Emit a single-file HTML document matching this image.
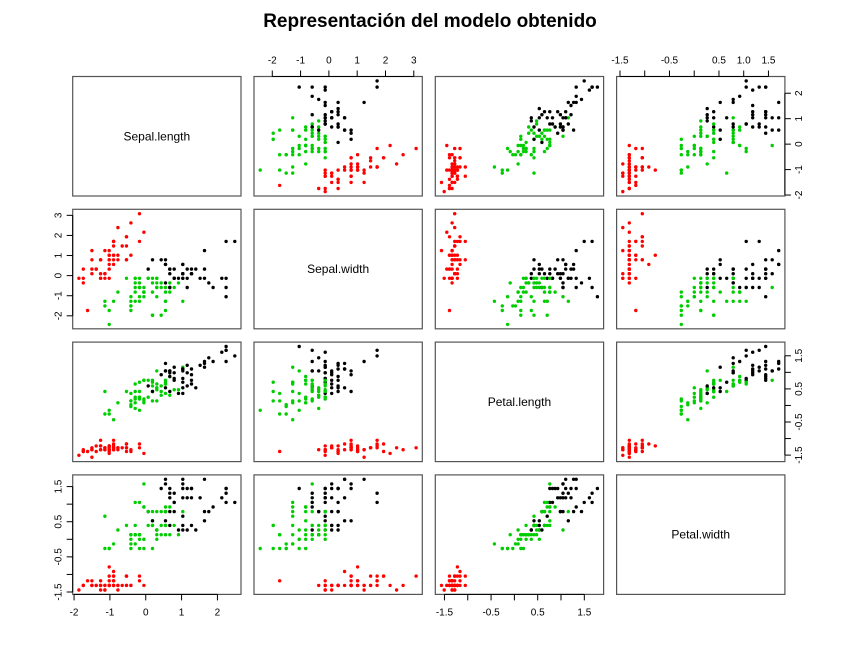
<!DOCTYPE html>
<html><head><meta charset="utf-8"><style>
body{margin:0;background:#fff;}
svg text{font-family:"Liberation Sans",sans-serif;fill:#000;}
</style></head><body>
<svg id="s" width="846" height="657" xmlns="http://www.w3.org/2000/svg">
<text x="430" y="27" font-size="19" font-weight="bold" text-anchor="middle">Representación del modelo obtenido</text>
</svg>
<script>
var raw="5.1,3.5,1.4,0.2;4.9,3.0,1.4,0.2;4.7,3.2,1.3,0.2;4.6,3.1,1.5,0.2;5.0,3.6,1.4,0.2;5.4,3.9,1.7,0.4;4.6,3.4,1.4,0.3;5.0,3.4,1.5,0.2;4.4,2.9,1.4,0.2;4.9,3.1,1.5,0.1;5.4,3.7,1.5,0.2;4.8,3.4,1.6,0.2;4.8,3.0,1.4,0.1;4.3,3.0,1.1,0.1;5.8,4.0,1.2,0.2;5.7,4.4,1.5,0.4;5.4,3.9,1.3,0.4;5.1,3.5,1.4,0.3;5.7,3.8,1.7,0.3;5.1,3.8,1.5,0.3;5.4,3.4,1.7,0.2;5.1,3.7,1.5,0.4;4.6,3.6,1.0,0.2;5.1,3.3,1.7,0.5;4.8,3.4,1.9,0.2;5.0,3.0,1.6,0.2;5.0,3.4,1.6,0.4;5.2,3.5,1.5,0.2;5.2,3.4,1.4,0.2;4.7,3.2,1.6,0.2;4.8,3.1,1.6,0.2;5.4,3.4,1.5,0.4;5.2,4.1,1.5,0.1;5.5,4.2,1.4,0.2;4.9,3.1,1.5,0.2;5.0,3.2,1.2,0.2;5.5,3.5,1.3,0.2;4.9,3.6,1.4,0.1;4.4,3.0,1.3,0.2;5.1,3.4,1.5,0.2;5.0,3.5,1.3,0.3;4.5,2.3,1.3,0.3;4.4,3.2,1.3,0.2;5.0,3.5,1.6,0.6;5.1,3.8,1.9,0.4;4.8,3.0,1.4,0.3;5.1,3.8,1.6,0.2;4.6,3.2,1.4,0.2;5.3,3.7,1.5,0.2;5.0,3.3,1.4,0.2;"+
"7.0,3.2,4.7,1.4;6.4,3.2,4.5,1.5;6.9,3.1,4.9,1.5;5.5,2.3,4.0,1.3;6.5,2.8,4.6,1.5;5.7,2.8,4.5,1.3;6.3,3.3,4.7,1.6;4.9,2.4,3.3,1.0;6.6,2.9,4.6,1.3;5.2,2.7,3.9,1.4;5.0,2.0,3.5,1.0;5.9,3.0,4.2,1.5;6.0,2.2,4.0,1.0;6.1,2.9,4.7,1.4;5.6,2.9,3.6,1.3;6.7,3.1,4.4,1.4;5.6,3.0,4.5,1.5;5.8,2.7,4.1,1.0;6.2,2.2,4.5,1.5;5.6,2.5,3.9,1.1;5.9,3.2,4.8,1.8;6.1,2.8,4.0,1.3;6.3,2.5,4.9,1.5;6.1,2.8,4.7,1.2;6.4,2.9,4.3,1.3;6.6,3.0,4.4,1.4;6.8,2.8,4.8,1.4;6.7,3.0,5.0,1.7;6.0,2.9,4.5,1.5;5.7,2.6,3.5,1.0;5.5,2.4,3.8,1.1;5.5,2.4,3.7,1.0;5.8,2.7,3.9,1.2;6.0,2.7,5.1,1.6;5.4,3.0,4.5,1.5;6.0,3.4,4.5,1.6;6.7,3.1,4.7,1.5;6.3,2.3,4.4,1.3;5.6,3.0,4.1,1.3;5.5,2.5,4.0,1.3;5.5,2.6,4.4,1.2;6.1,3.0,4.6,1.4;5.8,2.6,4.0,1.2;5.0,2.3,3.3,1.0;5.6,2.7,4.2,1.3;5.7,3.0,4.2,1.2;5.7,2.9,4.2,1.3;6.2,2.9,4.3,1.3;5.1,2.5,3.0,1.1;5.7,2.8,4.1,1.3;"+
"6.3,3.3,6.0,2.5;5.8,2.7,5.1,1.9;7.1,3.0,5.9,2.1;6.3,2.9,5.6,1.8;6.5,3.0,5.8,2.2;7.6,3.0,6.6,2.1;4.9,2.5,4.5,1.7;7.3,2.9,6.3,1.8;6.7,2.5,5.8,1.8;7.2,3.6,6.1,2.5;6.5,3.2,5.1,2.0;6.4,2.7,5.3,1.9;6.8,3.0,5.5,2.1;5.7,2.5,5.0,2.0;5.8,2.8,5.1,2.4;6.4,3.2,5.3,2.3;6.5,3.0,5.5,1.8;7.7,3.8,6.7,2.2;7.7,2.6,6.9,2.3;6.0,2.2,5.0,1.5;6.9,3.2,5.7,2.3;5.6,2.8,4.9,2.0;7.7,2.8,6.7,2.0;6.3,2.7,4.9,1.8;6.7,3.3,5.7,2.1;7.2,3.2,6.0,1.8;6.2,2.8,4.8,1.8;6.1,3.0,4.9,1.8;6.4,2.8,5.6,2.1;7.2,3.0,5.8,1.6;7.4,2.8,6.1,1.9;7.9,3.8,6.4,2.0;6.4,2.8,5.6,2.2;6.3,2.8,5.1,1.5;6.1,2.6,5.6,1.4;7.7,3.0,6.1,2.3;6.3,3.4,5.6,2.4;6.4,3.1,5.5,1.8;6.0,3.0,4.8,1.8;6.9,3.1,5.4,2.1;6.7,3.1,5.6,2.4;6.9,3.1,5.1,2.3;5.8,2.7,5.1,1.9;6.8,3.2,5.9,2.3;6.7,3.3,5.7,2.5;6.7,3.0,5.2,2.3;6.3,2.5,5.0,1.9;6.5,3.0,5.2,2.0;6.2,3.4,5.4,2.3;5.9,3.0,5.1,1.8";
var D=raw.split(";").map(function(r){return r.split(",").map(Number)});
var n=D.length;
for(var j=0;j<4;j++){var m=0;for(var i=0;i<n;i++)m+=D[i][j];m/=n;var v=0;for(i=0;i<n;i++)v+=(D[i][j]-m)*(D[i][j]-m);var sd=Math.sqrt(v/(n-1));for(i=0;i<n;i++)D[i][j]=(D[i][j]-m)/sd;}
// kmeans
var C=[D[0].slice(),D[50].slice(),D[100].slice()],cl=new Array(n);
for(var it=0;it<50;it++){for(i=0;i<n;i++){var b=0,bd=1e9;for(var k=0;k<3;k++){var d=0;for(j=0;j<4;j++)d+=Math.pow(D[i][j]-C[k][j],2);if(d<bd){bd=d;b=k;}}cl[i]=b;}
for(k=0;k<3;k++){var s=[0,0,0,0],c=0;for(i=0;i<n;i++)if(cl[i]==k){c++;for(j=0;j<4;j++)s[j]+=D[i][j];}if(c)for(j=0;j<4;j++)C[k][j]=s[j]/c;}}
var ord=[0,1,2].sort(function(a,b){return C[a][2]-C[b][2]});
var col={};col[ord[0]]="#ff0000";col[ord[1]]="#00cd00";col[ord[2]]="#000000";
var rng=[];for(j=0;j<4;j++){var mn=1e9,mx=-1e9;for(i=0;i<n;i++){mn=Math.min(mn,D[i][j]);mx=Math.max(mx,D[i][j]);}var e=(mx-mn)*0.04;rng.push([mn-e,mx+e]);}
var X0=72.7,W=168.3,PX=181.3,Y0=76.5,H=119.5,PY=132.8;
var out="";
function px(c,v){return X0+c*PX+(v-rng[c][0])/(rng[c][1]-rng[c][0])*W}
function py(r,v){return Y0+r*PY+H-(v-rng[r][0])/(rng[r][1]-rng[r][0])*H}
var names=["Sepal.length","Sepal.width","Petal.length","Petal.width"];
for(var r=0;r<4;r++)for(var c=0;c<4;c++){
 var x=X0+c*PX,y=Y0+r*PY;
 out+='<rect x="'+x+'" y="'+y+'" width="'+W+'" height="'+H+'" fill="none" stroke="#555" stroke-width="1.2"/>';
 if(r==c){out+='<text x="'+(x+W/2)+'" y="'+(y+H/2+4)+'" font-size="12" text-anchor="middle">'+names[r]+'</text>';continue;}
 for(i=0;i<n;i++)out+='<circle cx="'+px(c,D[i][c]).toFixed(1)+'" cy="'+py(r,D[i][r]).toFixed(1)+'" r="1.7" fill="'+col[cl[i]]+'"/>';
}
var T=[{t:[-2,-1,0,1,2],l:[-2,-1,0,1,2]},{t:[-2,-1,0,1,2,3],l:[-2,-1,0,1,2,3]},{t:[-1.5,-1,-0.5,0,0.5,1,1.5],l:["-1.5",null,"-0.5",null,"0.5",null,"1.5"]},{t:[-1.5,-1,-0.5,0,0.5,1,1.5],l:["-1.5",null,"-0.5",null,"0.5","1.0","1.5"]}];
var T4L=["-1.5",null,"-0.5",null,"0.5",null,"1.5"];
// x axes: col0,2 bottom; col1,3 top
for(c=0;c<4;c++){var bottom=(c%2==0);var yb=bottom?Y0+3*PY+H:Y0;var dir=bottom?1:-1;
 var t=T[c].t,xs=[];for(var q=0;q<t.length;q++)xs.push(px(c,t[q]));
 out+='<line x1="'+xs[0]+'" x2="'+xs[xs.length-1]+'" y1="'+yb+'" y2="'+yb+'" stroke="#000"/>';
 for(q=0;q<t.length;q++){out+='<line x1="'+xs[q]+'" x2="'+xs[q]+'" y1="'+yb+'" y2="'+(yb+dir*6)+'" stroke="#000"/>';
  var lb=T[c].l[q];if(lb!==null)out+='<text x="'+xs[q]+'" y="'+(bottom?yb+21:yb-13)+'" font-size="10" text-anchor="middle">'+lb+'</text>';}
}
// y axes: row0,2 right; row1,3 left
for(r=0;r<4;r++){var right=(r%2==0);var xb=right?X0+3*PX+W:X0;var dir=right?1:-1;
 var t=T[r].t,ys=[];for(var q=0;q<t.length;q++)ys.push(py(r,t[q]));
 var L=(r==3)?T4L:T[r].l;
 out+='<line y1="'+ys[0]+'" y2="'+ys[ys.length-1]+'" x1="'+xb+'" x2="'+xb+'" stroke="#000"/>';
 for(q=0;q<t.length;q++){out+='<line y1="'+ys[q]+'" y2="'+ys[q]+'" x1="'+xb+'" x2="'+(xb+dir*6)+'" stroke="#000"/>';
  var lb=L[q];if(lb!==null){var tx=right?xb+17:xb-11;out+='<text transform="translate('+tx+','+ys[q]+') rotate(-90)" font-size="10" text-anchor="middle">'+lb+'</text>';}}
}
document.getElementById("s").insertAdjacentHTML("beforeend",out);
</script>
</body></html>
